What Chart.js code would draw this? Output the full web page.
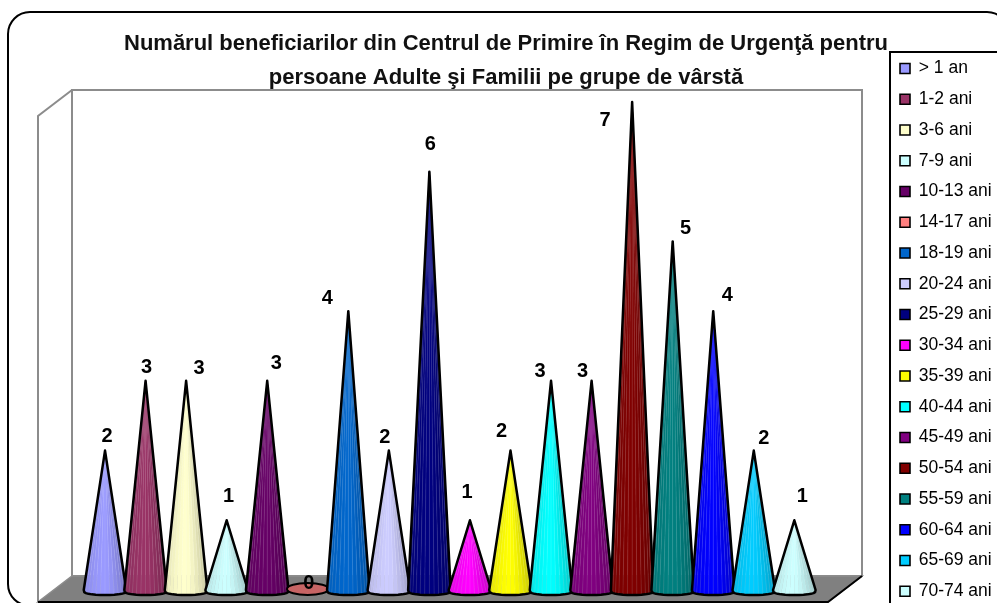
<!DOCTYPE html>
<html><head><meta charset="utf-8">
<style>html,body{margin:0;padding:0;background:#fff;overflow:hidden;width:997px;height:603px}canvas{display:block}</style>
<script src="https://cdn.jsdelivr.net/npm/chart.js@4"></script>
</head><body><canvas id="c" width="1030" height="640"></canvas>
<script>
const titleLines = ["Numărul beneficiarilor din Centrul de Primire în Regim de Urgenţă pentru","persoane Adulte şi Familii pe grupe de vârstă"];
const categories = ["> 1 an","1-2 ani","3-6 ani","7-9 ani","10-13 ani","14-17 ani","18-19 ani","20-24 ani","25-29 ani","30-34 ani","35-39 ani","40-44 ani","45-49 ani","50-54 ani","55-59 ani","60-64 ani","65-69 ani","70-74 ani"];
const values = [2,3,3,1,3,0,4,2,6,1,2,3,3,7,5,4,2,1];
const colors = ["#9999FF","#993366","#FFFFCC","#CCFFFF","#660066","#FF8080","#0066CC","#CCCCFF","#000080","#FF00FF","#FFFF00","#00FFFF","#800080","#800000","#008080","#0000FF","#00CCFF","#CCFFFF"];
// hand-placed data-label offsets, as in the reference
const labelDX = [2,1,13,2,9,1,-21,-4,1,-3,-9,-11,-9,-27,13,14,10,8];
const labelDY = [-14,-13,-12,-24,-17,-7,-13,-13,-27,-28,-19,-9,-9,18,-13,-16,-12,-24];

const W=1030,H=640;
function shade(hex,k){
  const n=parseInt(hex.slice(1),16);let c=[n>>16&255,n>>8&255,n&255];
  c=c.map(v=>k<=1?v*k:v+(255-v)*(k-1));
  return `rgb(${c.map(Math.round).join(",")})`;
}
function drawCone(ctx,x,apexY,baseY,hw,col){
  const ry=5,N=14,pts=[];
  for(let i=0;i<=N;i++){const a=Math.PI*i/N;pts.push([x+hw*Math.cos(a),baseY+ry*Math.pow(Math.sin(a),.55),Math.cos(a)]);}
  const flat=baseY-apexY<ry;
  ctx.save();ctx.lineJoin="round";
  if(flat){
    ctx.beginPath();ctx.ellipse(x,baseY-1,hw-.5,6,0,0,Math.PI*2);
    ctx.fillStyle=shade(col,.78);ctx.fill();ctx.strokeStyle="#000";ctx.lineWidth=2;ctx.stroke();
    ctx.restore();return;
  }
  for(let i=0;i<N;i++){
    const p=pts[i],q=pts[i+1],t=(p[2]+q[2])/2;
    const k=1.0-.22*Math.pow(Math.max(t,0),1.5)-.1*Math.pow(Math.max(-t,0),2);
    ctx.beginPath();ctx.moveTo(x,apexY);ctx.lineTo(p[0],p[1]);ctx.lineTo(q[0],q[1]);ctx.closePath();
    ctx.fillStyle=shade(col,k);ctx.strokeStyle=shade(col,k);ctx.lineWidth=.4;ctx.fill();ctx.stroke();
    if(i>0){ctx.beginPath();ctx.moveTo(x,apexY);ctx.lineTo(p[0],p[1]);ctx.strokeStyle="rgba(255,255,255,.13)";ctx.lineWidth=.8;ctx.stroke();}
  }
  ctx.beginPath();ctx.moveTo(x,apexY);
  pts.forEach(p=>ctx.lineTo(p[0],p[1]));ctx.closePath();
  ctx.strokeStyle="#000";ctx.lineWidth=2.5;ctx.stroke();
  ctx.restore();
}
function roundFrame(ctx,l,t,r,b,rad){ctx.beginPath();ctx.roundRect(l,t,r-l,b-t,rad);}

const stage={id:"stage",
  afterLayout(chart){
    const t=chart.titleBlock;t.left=0;t.right=1012;
    const g=chart.legend;g.left=886.75;g.right=W;g.top=46.5;g.bottom=H+200;
  },
  beforeDraw(chart){
    const c=chart.ctx;c.save();
    c.fillStyle="#fff";c.fillRect(0,0,W,H);
    // plot walls
    c.strokeStyle="#8c8c8c";c.lineWidth=2;c.lineJoin="miter";
    c.strokeRect(72,90,790,486);
    c.beginPath();c.moveTo(72,90);c.lineTo(38,116);c.lineTo(38,602);c.stroke();
    // floor
    c.beginPath();c.moveTo(72,576);c.lineTo(862,576);c.lineTo(828,602);c.lineTo(38,602);c.closePath();
    c.fillStyle="#808080";c.fill();
    c.strokeStyle="#8c8c8c";c.lineWidth=1.5;c.stroke();
    c.strokeStyle="#000";c.lineWidth=2;c.beginPath();c.moveTo(862,576);c.lineTo(828,602);c.lineTo(38,602);c.stroke();
    // outer frame
    c.strokeStyle="#000";c.lineWidth=2;roundFrame(c,8,12,1009,606,22);c.stroke();
    // legend frame
    c.lineWidth=2;c.fillStyle="#fff";c.beginPath();c.rect(890,52,130,570);c.fill();c.stroke();
    c.restore();
  },
  beforeDatasetDraw(chart,args){
    const c=chart.ctx,bars=args.meta.data;
    bars.forEach((b,i)=>drawCone(c,b.x,b.y,b.base,b.width/2+1,colors[i]));
    return false;
  },
  afterDatasetsDraw(chart){
    const c=chart.ctx,bars=chart.getDatasetMeta(0).data;
    c.save();c.font='bold 20px "Liberation Sans"';c.fillStyle="#000";c.textAlign="center";c.textBaseline="middle";
    bars.forEach((b,i)=>c.fillText(String(values[i]),b.x+labelDX[i],b.y+labelDY[i]));
    c.restore();
  }
};

new Chart(document.getElementById("c"),{
  type:"bar",
  data:{labels:categories,datasets:[{data:values,backgroundColor:colors,borderWidth:0,categoryPercentage:1,barPercentage:1}]},
  options:{
    responsive:false,animation:false,
    layout:{padding:{left:84.75,top:0,bottom:H-590,right:W-814.6-100}},
    scales:{
      x:{display:false,grid:{display:false}},
      y:{display:false,min:0,max:7,grid:{display:false}}
    },
    plugins:{
      tooltip:{enabled:false},
      title:{display:true,text:titleLines,color:"#111",font:{family:'"Liberation Sans"',size:22,weight:"bold",lineHeight:"34px"},padding:{top:27,bottom:7}},
      legend:{display:true,position:"right",align:"start",maxWidth:100,
        labels:{color:"#111",boxWidth:10,boxHeight:10,padding:13.25,font:{family:'"Liberation Sans"',size:17.5},
          generateLabels:()=>categories.map((t,i)=>({text:t,fillStyle:colors[i],strokeStyle:"#000",lineWidth:1.6,index:i,hidden:false}))}}
    }
  },
  plugins:[stage]
});
</script></body></html>
